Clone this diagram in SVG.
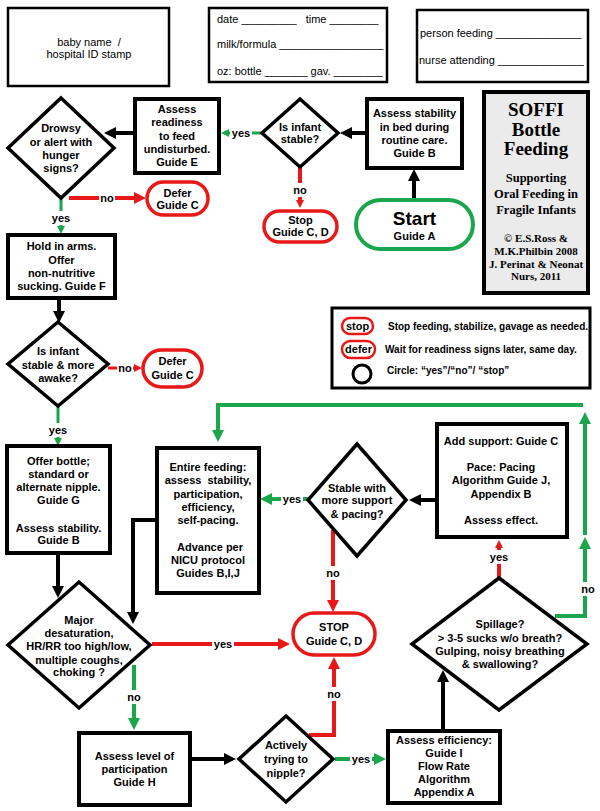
<svg xmlns="http://www.w3.org/2000/svg" width="600" height="811" viewBox="0 0 600 811">
<style>
.box{fill:#fff;stroke:#000;stroke-width:4}
.form{fill:#fff;stroke:#000;stroke-width:2.5}
.dia{fill:#fff;stroke:#000;stroke-width:3.5}
.pill{fill:#fff;stroke:#e81818;stroke-width:3.5}
.t{font-family:"Liberation Sans",Arial,sans-serif;font-weight:bold;font-size:11px;text-anchor:middle;fill:#000}
.f{font-family:"Liberation Sans",Arial,sans-serif;font-size:11px;fill:#000}
.lg{font-family:"Liberation Sans",Arial,sans-serif;font-weight:bold;font-size:10px;fill:#000}
.ttl{font-family:"Liberation Serif","Times New Roman",serif;font-weight:bold;text-anchor:middle;fill:#000}
.cb{stroke:#000;stroke-width:4;fill:none}
.cr{stroke:#e81818;stroke-width:4;fill:none}
.cg{stroke:#1aa64b;stroke-width:4;fill:none}
.crs{stroke:#e81818;stroke-width:3;fill:none}
.cgs{stroke:#1aa64b;stroke-width:3;fill:none}
.lbg{fill:#fff}
</style>
<defs>
<marker id="ab" markerUnits="userSpaceOnUse" viewBox="0 0 12 12" markerWidth="12" markerHeight="12" refX="6" refY="6" orient="auto"><path d="M0,0L12,6L0,12z" fill="#000"/></marker>
<marker id="ar" markerUnits="userSpaceOnUse" viewBox="0 0 12 12" markerWidth="12" markerHeight="12" refX="6" refY="6" orient="auto"><path d="M0,0L12,6L0,12z" fill="#e81818"/></marker>
<marker id="ag" markerUnits="userSpaceOnUse" viewBox="0 0 12 12" markerWidth="12" markerHeight="12" refX="6" refY="6" orient="auto"><path d="M0,0L12,6L0,12z" fill="#1aa64b"/></marker>
<marker id="ars" markerUnits="userSpaceOnUse" viewBox="0 0 8 8" markerWidth="8" markerHeight="8" refX="4" refY="4" orient="auto"><path d="M0,0L8,4L0,8z" fill="#e81818"/></marker>
<marker id="ags" markerUnits="userSpaceOnUse" viewBox="0 0 8 8" markerWidth="8" markerHeight="8" refX="4" refY="4" orient="auto"><path d="M0,0L8,4L0,8z" fill="#1aa64b"/></marker>
</defs>

<g id="form-baby">
<rect class="form" x="8" y="8" width="161" height="78"/>
<text class="f" x="89" y="46" text-anchor="middle" xml:space="preserve">baby name  /</text>
<text class="f" x="89" y="58" text-anchor="middle">hospital ID stamp</text>
</g>
<g id="form-feed">
<rect class="form" x="209" y="8" width="178" height="74"/>
<text class="f" x="217" y="23" xml:space="preserve">date _________   time ________</text>
<text class="f" x="217" y="48" xml:space="preserve">milk/formula _________________</text>
<text class="f" x="217" y="75" xml:space="preserve">oz: bottle _______ gav. ________</text>
</g>
<g id="form-staff">
<rect class="form" x="417" y="10" width="171" height="72"/>
<text class="f" x="420" y="37" xml:space="preserve">person feeding ______________</text>
<text class="f" x="419" y="64" xml:space="preserve">nurse attending ______________</text>
</g>

<g id="title">
<rect x="484" y="92" width="104" height="201" fill="#ebebeb" stroke="#000" stroke-width="4"/>
<text class="ttl" x="536" y="116" style="font-size:19px">SOFFI</text>
<text class="ttl" x="536" y="135.5" style="font-size:19px">Bottle</text>
<text class="ttl" x="536" y="155" style="font-size:19px">Feeding</text>
<text class="ttl" x="536" y="182" style="font-size:12.5px">Supporting</text>
<text class="ttl" x="536" y="198" style="font-size:12.5px">Oral Feeding in</text>
<text class="ttl" x="536" y="213.5" style="font-size:12.5px">Fragile Infants</text>
<text class="ttl" x="536" y="242" style="font-size:11px">© E.S.Ross &amp;</text>
<text class="ttl" x="536" y="255" style="font-size:11px">M.K.Philbin 2008</text>
<text class="ttl" x="536" y="267.5" style="font-size:11px">J. Perinat &amp; Neonat</text>
<text class="ttl" x="536" y="280" style="font-size:11px">Nurs, 2011</text>
</g>

<g id="legend">
<rect x="332" y="308" width="258" height="80" fill="#fff" stroke="#000" stroke-width="3"/>
<rect x="342" y="318" width="31" height="16" rx="8" fill="#fff" stroke="#e81818" stroke-width="2.5"/>
<text class="t" x="357.5" y="330">stop</text>
<rect x="342" y="341" width="33" height="17" rx="8.5" fill="#fff" stroke="#e81818" stroke-width="2.5"/>
<text class="t" x="358.5" y="353">defer</text>
<circle cx="362" cy="374" r="9" fill="#fff" stroke="#000" stroke-width="3"/>
<text class="lg" x="388" y="330">Stop feeding, stabilize, gavage as needed.</text>
<text class="lg" x="385" y="353">Wait for readiness signs later, same day.</text>
<text class="lg" x="387" y="374">Circle: “yes”/“no”/ “stop”</text>
</g>

<g id="connectors">
<line class="cb" x1="414" y1="200" x2="414" y2="175" marker-end="url(#ab)"/>
<line class="cb" x1="367" y1="133" x2="346" y2="133" marker-end="url(#ab)"/>
<line class="cgs" x1="262" y1="133" x2="225" y2="133" marker-end="url(#ags)"/>
<line class="cr" x1="300" y1="167" x2="300" y2="204" marker-end="url(#ars)"/>
<line class="cb" x1="135" y1="133" x2="110" y2="133" marker-end="url(#ab)"/>
<line class="cr" x1="69" y1="198" x2="140" y2="198" marker-end="url(#ar)"/>
<line class="cgs" x1="61" y1="198" x2="61" y2="230" marker-end="url(#ags)"/>
<line class="cb" x1="59" y1="298" x2="59" y2="317" marker-end="url(#ab)"/>
<line class="crs" x1="108" y1="368" x2="138" y2="368" marker-end="url(#ars)"/>
<line class="cgs" x1="58" y1="406" x2="58" y2="442" marker-end="url(#ags)"/>
<line class="cb" x1="58" y1="553" x2="58" y2="592" marker-end="url(#ab)"/>
<polyline class="cb" points="157,520 133,520 133,618" marker-end="url(#ab)"/>
<line class="cr" x1="152" y1="644" x2="284" y2="644" marker-end="url(#ar)"/>
<line class="cg" x1="134" y1="665" x2="134" y2="724" marker-end="url(#ag)"/>
<line class="cb" x1="190" y1="759" x2="230" y2="759" marker-end="url(#ab)"/>
<line class="cg" x1="335" y1="759" x2="380" y2="759" marker-end="url(#ag)"/>
<polyline class="cr" points="309,735 334,735 334,663" marker-end="url(#ar)"/>
<line class="cb" x1="443" y1="731" x2="443" y2="676" marker-end="url(#ab)"/>
<line class="cr" x1="499" y1="577" x2="499" y2="544" marker-end="url(#ars)"/>
<polyline class="cg" points="555,616 585,616 585,543" marker-end="url(#ag)"/>
<line class="cg" x1="585" y1="535" x2="585" y2="418" marker-end="url(#ag)"/>
<polyline class="cg" points="583,405 218,405 218,436" marker-end="url(#ag)"/>
<line class="cb" x1="437" y1="500" x2="415" y2="500" marker-end="url(#ab)"/>
<line class="cg" x1="308" y1="499" x2="266" y2="499" marker-end="url(#ag)"/>
<line class="cr" x1="333" y1="530" x2="333" y2="606" marker-end="url(#ar)"/>

<rect class="lbg" x="230" y="126" width="22" height="14"/>
<text class="t" x="241" y="137">yes</text>
<rect class="lbg" x="292" y="183" width="16" height="14"/>
<text class="t" x="300" y="194">no</text>
<rect class="lbg" x="99" y="191" width="16" height="14"/>
<text class="t" x="107" y="202">no</text>
<rect class="lbg" x="50" y="211" width="22" height="14"/>
<text class="t" x="61" y="222">yes</text>
<rect class="lbg" x="117" y="361" width="16" height="14"/>
<text class="t" x="125" y="372">no</text>
<rect class="lbg" x="47" y="423" width="22" height="14"/>
<text class="t" x="58" y="434">yes</text>
<rect class="lbg" x="212" y="637" width="22" height="14"/>
<text class="t" x="223" y="648">yes</text>
<rect class="lbg" x="126" y="690" width="16" height="14"/>
<text class="t" x="134" y="701">no</text>
<rect class="lbg" x="350" y="752" width="22" height="14"/>
<text class="t" x="361" y="763">yes</text>
<rect class="lbg" x="326" y="687" width="16" height="14"/>
<text class="t" x="334" y="698">no</text>
<rect class="lbg" x="488" y="550" width="22" height="14"/>
<text class="t" x="499" y="561">yes</text>
<rect class="lbg" x="580" y="582" width="16" height="14"/>
<text class="t" x="588" y="593">no</text>
<rect class="lbg" x="281" y="492" width="22" height="14"/>
<text class="t" x="292" y="503">yes</text>
<rect class="lbg" x="325" y="566" width="16" height="14"/>
<text class="t" x="333" y="577">no</text>
</g>

<g id="start">
<rect x="356" y="200" width="117" height="49" rx="24.5" fill="#fff" stroke="#1aa64b" stroke-width="4"/>
<text class="t" x="414.5" y="224.5" style="font-size:19px">Start</text>
<text class="t" x="414.5" y="240">Guide A</text>
</g>
<g id="assess-stability">
<rect class="box" x="367" y="99" width="95" height="69"/>
<text class="t" x="414.5" y="117">Assess stability</text>
<text class="t" x="414.5" y="131">in bed during</text>
<text class="t" x="414.5" y="143.5">routine care.</text>
<text class="t" x="414.5" y="157">Guide B</text>
</g>
<g id="is-stable">
<polygon class="dia" points="300,99 338,133 300,167 262,133"/>
<text class="t" x="300" y="131">Is infant</text>
<text class="t" x="300" y="143">stable?</text>
</g>
<g id="stop-top">
<rect class="pill" x="264" y="211" width="73" height="31" rx="15.5"/>
<text class="t" x="300.5" y="223.5">Stop</text>
<text class="t" x="300.5" y="236">Guide C, D</text>
</g>
<g id="assess-readiness">
<rect class="box" x="135" y="99" width="84" height="74"/>
<text class="t" x="177" y="113">Assess</text>
<text class="t" x="177" y="126">readiness</text>
<text class="t" x="177" y="139.5">to feed</text>
<text class="t" x="177" y="153">undisturbed.</text>
<text class="t" x="177" y="166">Guide E</text>
</g>
<g id="drowsy">
<polygon class="dia" points="61,98 114,148 61,198 8,148"/>
<text class="t" x="61" y="132">Drowsy</text>
<text class="t" x="61" y="145.5">or alert with</text>
<text class="t" x="61" y="159">hunger</text>
<text class="t" x="61" y="172">signs?</text>
</g>
<g id="defer-1">
<rect class="pill" x="147" y="182" width="61" height="33" rx="16.5"/>
<text class="t" x="177.5" y="196.5">Defer</text>
<text class="t" x="177.5" y="209">Guide C</text>
</g>
<g id="hold">
<rect class="box" x="8" y="235" width="107" height="63"/>
<text class="t" x="61.5" y="250">Hold in arms.</text>
<text class="t" x="61.5" y="263.5">Offer</text>
<text class="t" x="61.5" y="277">non-nutritive</text>
<text class="t" x="61.5" y="290">sucking. Guide F</text>
</g>
<g id="awake">
<polygon class="dia" points="58,322 108,364 58,406 8,364"/>
<text class="t" x="58" y="355">Is infant</text>
<text class="t" x="58" y="368.5">stable &amp; more</text>
<text class="t" x="58" y="381.5">awake?</text>
</g>
<g id="defer-2">
<rect class="pill" x="143" y="350" width="59" height="37" rx="18.5"/>
<text class="t" x="172.5" y="365">Defer</text>
<text class="t" x="172.5" y="378.5">Guide C</text>
</g>
<g id="offer-bottle">
<rect class="box" x="7" y="446" width="103" height="107"/>
<text class="t" x="58.5" y="465">Offer bottle;</text>
<text class="t" x="58.5" y="477.5">standard or</text>
<text class="t" x="58.5" y="491">alternate nipple.</text>
<text class="t" x="58.5" y="504">Guide G</text>
<text class="t" x="58.5" y="531.5">Assess stability.</text>
<text class="t" x="58.5" y="544">Guide B</text>
</g>
<g id="entire-feeding">
<rect class="box" x="157" y="448" width="102" height="145"/>
<text class="t" x="208" y="471">Entire feeding:</text>
<text class="t" x="208" y="484" xml:space="preserve">assess  stability,</text>
<text class="t" x="208" y="497.5">participation,</text>
<text class="t" x="208" y="511">efficiency,</text>
<text class="t" x="208" y="523.5">self-pacing.</text>
<text class="t" x="210" y="551">Advance per</text>
<text class="t" x="208" y="563.5">NICU protocol</text>
<text class="t" x="208" y="577">Guides B,I,J</text>
</g>
<g id="stable-support">
<polygon class="dia" points="357,444 406,500 357,556 308,500"/>
<text class="t" x="357" y="491.5">Stable with</text>
<text class="t" x="357" y="504">more support</text>
<text class="t" x="357" y="517.5">&amp; pacing?</text>
</g>
<g id="add-support">
<rect class="box" x="437" y="424" width="130" height="113"/>
<text class="t" x="501" y="445">Add support: Guide C</text>
<text class="t" x="501" y="471">Pace: Pacing</text>
<text class="t" x="501" y="484">Algorithm Guide J,</text>
<text class="t" x="501" y="497.5">Appendix B</text>
<text class="t" x="501" y="524">Assess effect.</text>
</g>
<g id="spillage">
<polygon class="dia" points="499,578 587,644 499,710 412,644"/>
<text class="t" x="500" y="627.5">Spillage?</text>
<text class="t" x="500" y="641.5">&gt; 3-5 sucks w/o breath?</text>
<text class="t" x="500" y="655">Gulping, noisy breathing</text>
<text class="t" x="500" y="667.5">&amp; swallowing?</text>
</g>
<g id="stop-main">
<rect class="pill" x="293" y="613" width="82" height="42" rx="21"/>
<text class="t" x="334" y="631">STOP</text>
<text class="t" x="334" y="645">Guide C, D</text>
</g>
<g id="major">
<polygon class="dia" points="79,582 150,645 79,708 8,645"/>
<text class="t" x="79" y="623.5">Major</text>
<text class="t" x="79" y="637">desaturation,</text>
<text class="t" x="79" y="650">HR/RR too high/low,</text>
<text class="t" x="79" y="663.5">multiple coughs,</text>
<text class="t" x="79" y="676">choking ?</text>
</g>
<g id="assess-participation">
<rect class="box" x="79" y="733" width="111" height="72"/>
<text class="t" x="134.5" y="760">Assess level of</text>
<text class="t" x="134.5" y="773">participation</text>
<text class="t" x="134.5" y="786">Guide H</text>
</g>
<g id="actively">
<polygon class="dia" points="286,716 333,759 286,802 239,759"/>
<text class="t" x="286" y="749">Actively</text>
<text class="t" x="286" y="763">trying to</text>
<text class="t" x="286" y="777">nipple?</text>
</g>
<g id="assess-efficiency">
<rect class="box" x="388" y="731" width="112" height="72"/>
<text class="t" x="444" y="744">Assess efficiency:</text>
<text class="t" x="444" y="757">Guide I</text>
<text class="t" x="444" y="770">Flow Rate</text>
<text class="t" x="444" y="783">Algorithm</text>
<text class="t" x="444" y="796">Appendix A</text>
</g>
</svg>
